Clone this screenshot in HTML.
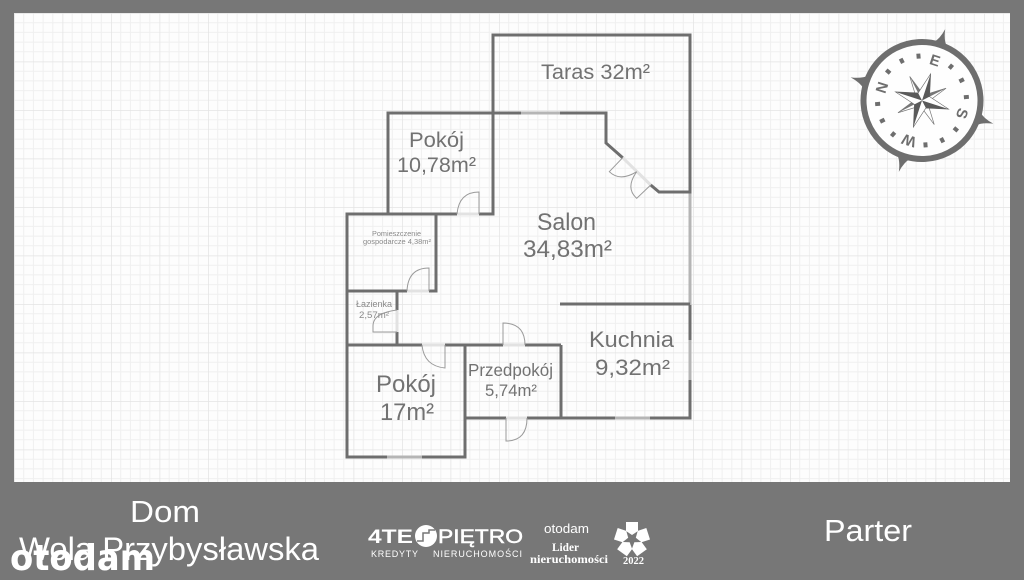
<!DOCTYPE html>
<html><head><meta charset="utf-8"><style>
html,body{margin:0;padding:0;background:#777}
svg{display:block}
text{font-family:"Liberation Sans",sans-serif}
.l{fill:#727272}
.w{fill:#fff}
.wall{fill:none;stroke:#6e6e6e;stroke-width:3}
.win{fill:none;stroke:#b5b5b5;stroke-width:3}
.door{fill:none;stroke:#9a9a9a;stroke-width:1}
.th{fill:none;stroke:#e2e2e2;stroke-width:3}
</style></head><body>
<svg width="1024" height="580" viewBox="0 0 1024 580" xmlns="http://www.w3.org/2000/svg">
<defs>
<pattern id="g" width="48.5" height="48.5" patternUnits="userSpaceOnUse" x="14" y="13">
<rect width="48.5" height="48.5" fill="#fdfdfd"/>
<path d="M9.7 0V48.5M19.4 0V48.5M29.1 0V48.5M38.8 0V48.5M0 9.7H48.5M0 19.4H48.5M0 29.1H48.5M0 38.8H48.5" stroke="#f0f0f0" stroke-width="1" fill="none"/>
<path d="M0 0V48.5M0 0H48.5" stroke="#e4e4e4" stroke-width="1.5" fill="none"/>
</pattern>
</defs>
<rect width="1024" height="580" fill="#777"/>
<rect x="14" y="13" width="996" height="469" fill="url(#g)"/>

<!-- thresholds -->
<path class="th" d="M457 214H479M407 291H429M397 310V332M422 345H445M503 345H525M506 418H527M622.7 157.7L650.7 185"/>
<!-- windows -->
<path class="win" d="M521 113H560M690 192V305M690 340V380M387 457H422M615 418H650"/>
<!-- walls -->
<path class="wall" d="M493 214V35H690V192H659L650.7 185M622.7 157.7L606 143V113H560M521 113H388V214M690 305V340M690 380V418H650M615 418H527M506 418H465M561 345V418M465 345V457H422M387 457H347V214H457M479 214H493V113M436 214V291H429M407 291H347M397 291V310M397 332V345M347 345H422M445 345H503M525 345H561M560 304H690"/>
<!-- doors -->
<g class="door">
<path d="M479 214V192Q459 192 457 214"/>
<path d="M429 291V268Q408 268 407 291"/>
<path d="M397 332H373V326Q373 313 397 310"/>
<path d="M422 345Q424 366 445 368V345"/>
<path d="M503 345V323Q525 323 525 345"/>
<path d="M506 418V441Q527 441 527 418"/>
<path d="M622.7 157.7L609.3 171.7Q620 182 636.7 171.7"/>
<path d="M650.7 185L636.7 198.3Q625 188 636.7 171.7"/>
</g>

<!-- labels -->
<g class="l">
<text x="541" y="79" font-size="21" textLength="109" lengthAdjust="spacingAndGlyphs">Taras 32m²</text>
<text x="409" y="147" font-size="21" textLength="55" lengthAdjust="spacingAndGlyphs">Pokój</text>
<text x="397" y="172" font-size="21" textLength="79" lengthAdjust="spacingAndGlyphs">10,78m²</text>
<text x="537" y="230" font-size="24" textLength="59" lengthAdjust="spacingAndGlyphs">Salon</text>
<text x="523" y="257" font-size="24" textLength="89" lengthAdjust="spacingAndGlyphs">34,83m²</text>
<text x="589" y="347" font-size="22" textLength="85" lengthAdjust="spacingAndGlyphs">Kuchnia</text>
<text x="595" y="375" font-size="22" textLength="75" lengthAdjust="spacingAndGlyphs">9,32m²</text>
<text x="376" y="392" font-size="24" textLength="60" lengthAdjust="spacingAndGlyphs">Pokój</text>
<text x="380" y="420" font-size="24" textLength="54" lengthAdjust="spacingAndGlyphs">17m²</text>
<text x="468" y="376" font-size="17.5" textLength="85" lengthAdjust="spacingAndGlyphs">Przedpokój</text>
<text x="485" y="396" font-size="17" textLength="52" lengthAdjust="spacingAndGlyphs">5,74m²</text>
<text x="372" y="236" font-size="7" textLength="49" lengthAdjust="spacingAndGlyphs" fill="#8a8a8a">Pomieszczenie</text>
<text x="363" y="244" font-size="7" textLength="68" lengthAdjust="spacingAndGlyphs" fill="#8a8a8a">gospodarcze 4,38m²</text>
<text x="356" y="307" font-size="9" textLength="36" lengthAdjust="spacingAndGlyphs" fill="#8a8a8a">Łazienka</text>
<text x="359" y="318" font-size="9" textLength="30" lengthAdjust="spacingAndGlyphs" fill="#8a8a8a">2,57m²</text>
</g>

<!-- compass -->
<g transform="translate(922 100.5) rotate(18)">
<circle r="58.5" fill="#fefefe" stroke="#6e6e6e" stroke-width="6"/>
<path d="M-7 -59Q-2 -64 0 -75Q2 -64 7 -59ZM-7 59Q-2 64 0 75Q2 64 7 59ZM-59 -7Q-64 -2 -75 0Q-64 2 -59 7ZM59 -7Q64 -2 75 0Q64 2 59 7Z" fill="#6e6e6e"/>
<g fill="#6e6e6e">
<rect x="-2" y="-47" width="4" height="5" transform="rotate(22.5)"/><rect x="-2" y="-47" width="4" height="5" transform="rotate(45)"/><rect x="-2" y="-47" width="4" height="5" transform="rotate(67.5)"/>
<rect x="-2" y="-47" width="4" height="5" transform="rotate(112.5)"/><rect x="-2" y="-47" width="4" height="5" transform="rotate(135)"/><rect x="-2" y="-47" width="4" height="5" transform="rotate(157.5)"/>
<rect x="-2" y="-47" width="4" height="5" transform="rotate(202.5)"/><rect x="-2" y="-47" width="4" height="5" transform="rotate(225)"/><rect x="-2" y="-47" width="4" height="5" transform="rotate(247.5)"/>
<rect x="-2" y="-47" width="4" height="5" transform="rotate(292.5)"/><rect x="-2" y="-47" width="4" height="5" transform="rotate(315)"/><rect x="-2" y="-47" width="4" height="5" transform="rotate(337.5)"/>
</g>
<g font-size="15" font-weight="bold" fill="#6e6e6e" text-anchor="middle">
<text x="0" y="-37">E</text>
<text transform="rotate(90) translate(0 -37)">S</text>
<text transform="rotate(180) translate(0 -37)">W</text>
<text transform="rotate(270) translate(0 -37)">N</text>
</g>
<g transform="rotate(45)">
<path d="M0 -27L4 -4L27 0L4 4L0 27L-4 4L-27 0L-4 -4Z" fill="#fff" stroke="#777" stroke-width=".7"/>
<path d="M0 -27L0 0L27 0L0 0L0 27L-4 4L0 0L-27 0L-4 -4Z" fill="#777"/>
</g>
<path d="M0 -28L6 -6L28 0L6 6L0 28L-6 6L-28 0L-6 -6Z" fill="#fff" stroke="#666" stroke-width=".6"/>
<path d="M0 -28L6 -6L0 0ZM28 0L6 6L0 0ZM0 28L-6 6L0 0ZM-28 0L-6 -6L0 0Z" fill="#5a5a5a"/>
</g>

<!-- footer -->
<g class="w">
<text x="130" y="522" font-size="31" textLength="70" lengthAdjust="spacingAndGlyphs">Dom</text>
<text x="19" y="560" font-size="32" textLength="300" lengthAdjust="spacingAndGlyphs">Wola Przybysławska</text>
<text x="824" y="541" font-size="31" textLength="88" lengthAdjust="spacingAndGlyphs">Parter</text>
<text x="10" y="570" font-size="36" font-weight="bold" style="font-family:'DejaVu Sans',sans-serif" textLength="145" lengthAdjust="spacingAndGlyphs">otodam</text>
<text x="368" y="543" font-size="19" font-weight="bold" textLength="45" lengthAdjust="spacingAndGlyphs">4TE</text>
<circle cx="426" cy="536" r="11"/>
<path d="M417 541H423V533H429V530H435" fill="none" stroke="#777" stroke-width="1.5"/>
<text x="438" y="543" font-size="19" textLength="85" lengthAdjust="spacingAndGlyphs" stroke="#fff" stroke-width=".5">PIĘTRO</text>
<text x="371" y="557" font-size="9" textLength="47" lengthAdjust="spacing">KREDYTY</text>
<text x="433" y="557" font-size="9" textLength="89" lengthAdjust="spacing">NIERUCHOMOŚCI</text>
<text x="544" y="533" font-size="13" textLength="45" lengthAdjust="spacingAndGlyphs">otodam</text>
<text x="552" y="551" font-size="12" font-weight="bold" style="font-family:'Liberation Serif',serif" textLength="27" lengthAdjust="spacingAndGlyphs">Lider</text>
<text x="530" y="563" font-size="12" font-weight="bold" style="font-family:'Liberation Serif',serif" textLength="78" lengthAdjust="spacingAndGlyphs">nieruchomości</text>
<g transform="translate(632 539)">
<path id="p" d="M-6 -17H6V-8L0 -4L-6 -8Z"/>
<path d="M-6 -17H6V-8L0 -4L-6 -8Z" transform="rotate(72)"/>
<path d="M-6 -17H6V-8L0 -4L-6 -8Z" transform="rotate(144)"/>
<path d="M-6 -17H6V-8L0 -4L-6 -8Z" transform="rotate(216)"/>
<path d="M-6 -17H6V-8L0 -4L-6 -8Z" transform="rotate(288)"/>
</g>
<text x="623" y="564" font-size="11" font-weight="bold" style="font-family:'Liberation Serif',serif" textLength="21" lengthAdjust="spacingAndGlyphs">2022</text>
</g>
</svg>
</body></html>
